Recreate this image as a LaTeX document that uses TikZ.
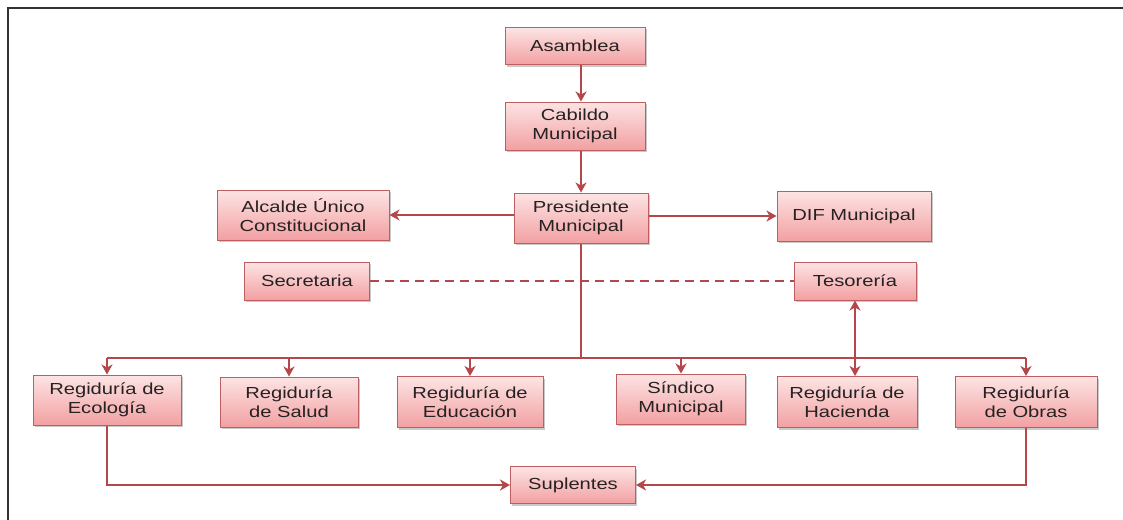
\documentclass[tikz,border=0pt]{standalone}
\usepackage{fontspec}
\setmainfont{Liberation Sans}[FakeStretch=1.26]
\usetikzlibrary{arrows.meta,shadows}
\definecolor{linkred}{HTML}{B5474B}
\definecolor{boxedge}{HTML}{BD5F62}
\definecolor{boxtop}{HTML}{FDE4E4}
\definecolor{boxbottom}{HTML}{F2A0A2}
\definecolor{labelgray}{HTML}{262222}
\tikzset{
  unit/.style={draw=boxedge, line width=1pt, top color=boxtop, bottom color=boxbottom,
    inner sep=0pt, align=center, text=labelgray,
    font=\fontsize{16pt}{19pt}\selectfont,
    drop shadow={shadow xshift=1.5pt, shadow yshift=-2pt, opacity=0.35, fill=black!60}},
  link/.style={draw=linkred, line width=2.9pt},
  tip/.style={-{Stealth[length=10pt,width=11pt,inset=3pt]}},
  bothtips/.style={{Stealth[length=10pt,width=11pt,inset=3pt]}-{Stealth[length=10pt,width=11pt,inset=3pt]}},
  frameline/.style={draw=black!80, line width=2.8pt}
}
\begin{document}
\begin{tikzpicture}[x=1pt,y=-1pt]
\useasboundingbox (0,0) rectangle (1123,519);
\fill[white] (0,0) rectangle (1123,519);
% outer frame (top and left edges)
\draw[frameline] (8,525) -- (8,8) -- (1130,8);

% units
\node[unit, minimum width=140pt, minimum height=37pt] (asam) at (575,46) {Asamblea};
\node[unit, minimum width=140pt, minimum height=48pt] (cab) at (575,126) {Cabildo\\Municipal};
\node[unit, minimum width=134pt, minimum height=50pt] (pres) at (581,218) {Presidente\\Municipal};
\node[unit, minimum width=172pt, minimum height=50pt] (alc) at (303,215) {Alcalde Único\\Constitucional};
\node[unit, minimum width=154pt, minimum height=50pt] (dif) at (854,216) {DIF Municipal};
\node[unit, minimum width=125pt, minimum height=38pt] (sec) at (307,281) {Secretaria};
\node[unit, minimum width=122pt, minimum height=38pt] (tes) at (855,281) {Tesorería};
\node[unit, minimum width=148pt, minimum height=50pt] (eco) at (107,400) {Regiduría de\\Ecología};
\node[unit, minimum width=138pt, minimum height=50pt] (sal) at (289,402) {Regiduría\\de Salud};
\node[unit, minimum width=146pt, minimum height=51pt] (edu) at (470,402) {Regiduría de\\Educación};
\node[unit, minimum width=129pt, minimum height=50pt] (sin) at (681,399) {Síndico\\Municipal};
\node[unit, minimum width=140pt, minimum height=51pt] (hac) at (847,402) {Regiduría de\\Hacienda};
\node[unit, minimum width=142pt, minimum height=51pt] (obr) at (1026,402) {Regiduría\\de Obras};
\node[unit, minimum width=125pt, minimum height=37pt] (sup) at (573,485) {Suplentes};

% distribution bus below the president
\coordinate (bus) at (581,358);
\coordinate (busL) at (107,358);
\coordinate (busR) at (1026,358);

% connectors
\draw[link, tip] (asam.south -| pres) -- (cab.north -| pres);
\draw[link, tip] (cab.south -| pres) -- (pres.north);
\draw[link, tip] (alc.east -| pres.west) -- (alc.east);
\draw[link, tip] (dif.west -| pres.east) -- (dif.west);
\draw[link] (pres.south) -- (bus);
\draw[link] (busL) -- (busR);
\draw[link, dash pattern=on 9pt off 6pt] (sec.east) -- (tes.west);
\draw[link, tip] (busL) -- (eco.north);
\draw[link, tip] (sal.north |- bus) -- (sal.north);
\draw[link, tip] (edu.north |- bus) -- (edu.north);
\draw[link, tip] (sin.north |- bus) -- (sin.north);
\draw[link, bothtips] (tes.south) -- (tes.south |- hac.north);
\draw[link, tip] (busR) -- (obr.north);
\draw[link, tip] (eco.south) |- (sup.west);
\draw[link, tip] (obr.south) |- (sup.east);
\end{tikzpicture}
\end{document}
